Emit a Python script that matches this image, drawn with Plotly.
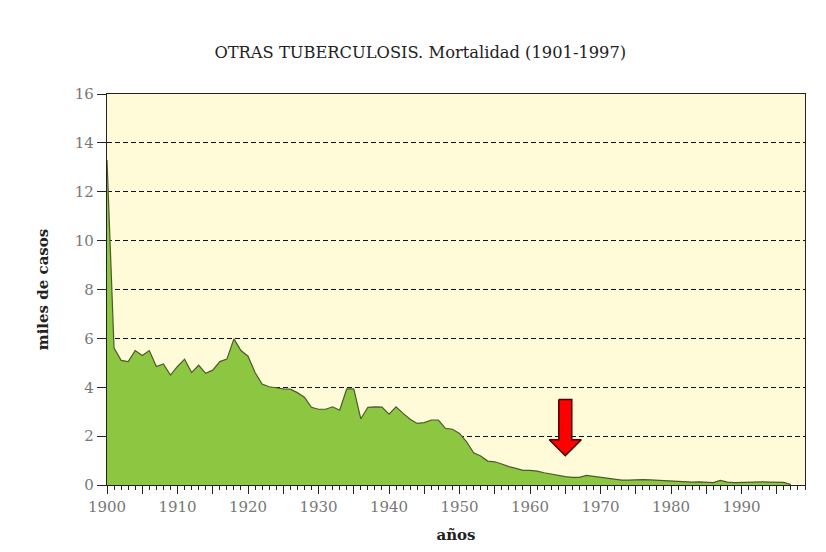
import plotly.graph_objects as go

# años 1900-1997, miles de casos
years = list(range(1900, 1998))
deaths = [
    13.3, 5.6, 5.1, 5.05, 5.5, 5.3, 5.5, 4.85, 4.95, 4.5,
    4.85, 5.15, 4.6, 4.9, 4.57, 4.7, 5.05, 5.15, 5.98, 5.5,
    5.27, 4.6, 4.13, 4.02, 3.98, 3.93, 3.92, 3.78, 3.59, 3.18,
    3.1, 3.1, 3.2, 3.06, 3.93, 3.93, 2.71, 3.18, 3.2, 3.19,
    2.9, 3.2, 2.93, 2.69, 2.52, 2.55, 2.66, 2.66, 2.32, 2.28,
    2.11, 1.77, 1.32, 1.19, 0.98, 0.95, 0.86, 0.75, 0.68, 0.6,
    0.6, 0.57, 0.5, 0.44, 0.41, 0.34, 0.31, 0.31, 0.39, 0.35,
    0.3, 0.26, 0.23, 0.2, 0.2, 0.22, 0.22, 0.21, 0.19, 0.17,
    0.15, 0.13, 0.12, 0.12, 0.13, 0.12, 0.1, 0.19, 0.12, 0.1,
    0.11, 0.12, 0.13, 0.13, 0.12, 0.12, 0.11, 0.02,
]

x_tickvals = list(range(1900, 2000, 5))
x_ticktext = [str(v) if v % 10 == 0 else "" for v in x_tickvals]

# flecha roja (año y alturas en miles de casos)
arrow_year = 1965
arrow_top, arrow_neck, arrow_tip = 3.5, 1.85, 1.2
shaft_w, head_w = 0.92, 2.27
arrow_x = [arrow_year - shaft_w, arrow_year + shaft_w, arrow_year + shaft_w,
           arrow_year + head_w, arrow_year, arrow_year - head_w,
           arrow_year - shaft_w, arrow_year - shaft_w]
arrow_y = [arrow_top, arrow_top, arrow_neck, arrow_neck, arrow_tip,
           arrow_neck, arrow_neck, arrow_top]

serif = "DejaVu Serif"

fig = go.Figure()
fig.add_trace(go.Scatter(x=years, y=deaths, mode="lines", fill="tozeroy",
                         fillcolor="#8dc641",
                         line=dict(color="#4b5a2c", width=1.2),
                         hoverinfo="x+y"))
fig.add_trace(go.Scatter(x=arrow_x, y=arrow_y, mode="lines", fill="toself",
                         fillcolor="#ff0000",
                         line=dict(color="#4a0000", width=1.5),
                         hoverinfo="skip"))

# la página html deja 8px de margen, así que la figura es algo menor
fig.update_layout(
    width=810, height=536,
    margin=dict(l=99, r=13, t=86, b=59),
    paper_bgcolor="white",
    plot_bgcolor="#fffbd8",
    showlegend=False,
    title=dict(text="OTRAS TUBERCULOSIS. Mortalidad (1901-1997)",
               x=0.509, xanchor="center", y=0.918, yanchor="middle",
               font=dict(family=serif, size=16.3, color="#222")),
    font=dict(family=serif),
)

fig.update_xaxes(
    range=[1900, 1999], automargin=False,
    tickvals=x_tickvals, ticktext=x_ticktext,
    ticks="outside", ticklen=8, tickcolor="#222",
    minor=dict(dtick=1, tick0=1900, ticks="outside", ticklen=4, tickcolor="#222"),
    showline=True, linecolor="#222", linewidth=1.2, mirror=True,
    showgrid=False, zeroline=False,
    tickfont=dict(family=serif, size=15, color="#777"),
    title=dict(text="<b>años</b>", standoff=14,
               font=dict(family=serif, size=15, color="#222")),
)

fig.update_yaxes(
    range=[0, 16], dtick=2, automargin=False,
    ticks="outside", ticklen=9, tickcolor="#222",
    showline=True, linecolor="#222", linewidth=1.2, mirror=True,
    showgrid=True, gridcolor="#111", gridwidth=1, griddash="5px,3px",
    zeroline=False,
    tickfont=dict(family=serif, size=15, color="#777"),
    title=dict(text="<b>miles de casos</b>", standoff=22,
               font=dict(family=serif, size=15, color="#222")),
)

fig.write_html("out.html")
